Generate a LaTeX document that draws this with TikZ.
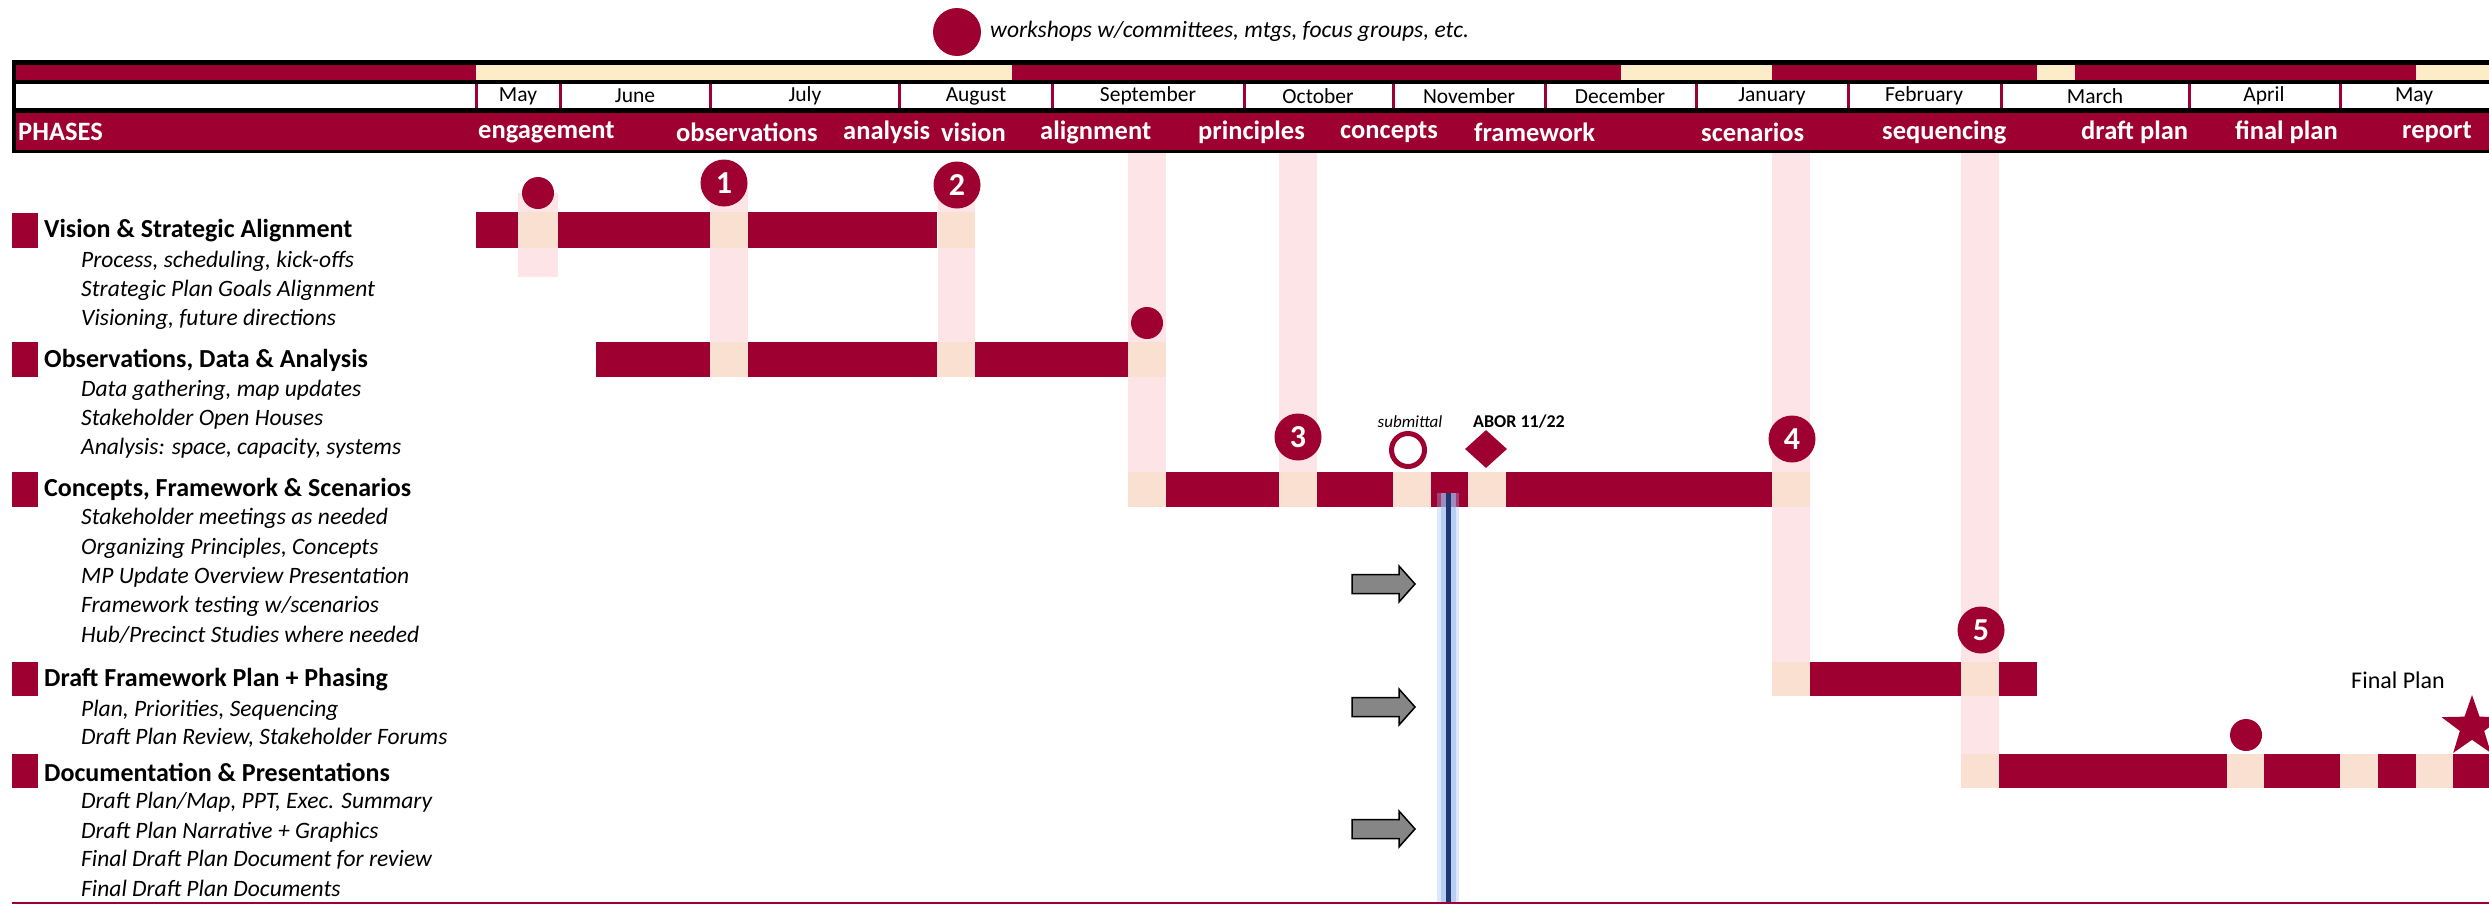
\documentclass[tikz,border=0pt]{standalone}
\usepackage{fontspec}
\setmainfont{Carlito}
\usetikzlibrary{shapes.geometric}
\definecolor{mar}{RGB}{158,0,49}
\definecolor{topc}{RGB}{252,236,200}
\definecolor{gapc}{RGB}{250,224,208}
\definecolor{stripc}{RGB}{253,228,230}
\definecolor{navy}{RGB}{30,55,110}
\definecolor{glow}{RGB}{160,190,240}
\begin{document}
\begin{tikzpicture}[x=1pt,y=-1pt,
  dotm/.style={circle, fill=mar, minimum size=32pt, inner sep=0pt},
  marker/.style={circle, fill=mar, minimum size=47pt, inner sep=0pt, text=white, font=\fontsize{32}{32}\selectfont\bfseries},
  cattitle/.style={anchor=west, inner sep=0pt, font=\fontsize{26}{28}\selectfont\bfseries},
  item/.style={anchor=west, inner sep=0pt, font=\fontsize{23.5}{26}\selectfont\itshape},
  month/.style={inner sep=0pt, font=\fontsize{21.5}{22}\selectfont},
  phase/.style={anchor=west, inner sep=0pt, text=white, font=\fontsize{26.5}{28}\selectfont\bfseries},
  arrowst/.style={fill=gray!95, draw=black, line width=1.5pt},
]
\useasboundingbox (0,0) rectangle (2489,905);
\fill[white] (0,0) rectangle (2489,905);

% legend
\node[dotm, minimum size=48pt] (legdot) at (957,32) {};
\node[item, font=\fontsize{23.5}{25}\selectfont\itshape] (legtxt) at (990,31) {workshops w/committees, mtgs, focus groups, etc.};

% header box
\fill[black] (12,60) rectangle (2495,153);
\fill[mar] (16,65) rectangle (2489,80);
\foreach \a/\b in {476/1012, 1621/1772, 2037/2075, 2416/2489}
  \fill[topc] (\a,65) rectangle (\b,80);
\fill[white] (16,84) rectangle (2489,108);
\foreach \x in {476,560,710,899,1052,1244,1393,1545,1696,1848,2001,2189,2340}
  \draw[mar, line width=3pt] (\x,84) -- (\x,108);
\fill[mar] (16,113) rectangle (2489,150);

% months
\node[month] (mMay) at (518,96) {May};
\node[month] (mJun) at (635,96) {June};
\node[month] (mJul) at (805,96) {July};
\node[month] (mAug) at (976,96) {August};
\node[month] (mSep) at (1148,96) {September};
\node[month] (mOct) at (1318,96) {October};
\node[month] (mNov) at (1469,96) {November};
\node[month] (mDec) at (1620,96) {December};
\node[month] (mJan) at (1772,96) {January};
\node[month] (mFeb) at (1924,96) {February};
\node[month] (mMar) at (2095,96) {March};
\node[month] (mApr) at (2264,96) {April};
\node[month] (mMay2) at (2414,96) {May};

% phases
\node[phase] (pPh) at (18,132) {PHASES};
\node[phase] (p1) at (478,132) {engagement};
\node[phase] (p2) at (676,132) {observations};
\node[phase] (p3) at (843,132) {analysis};
\node[phase] (p4) at (941,132) {vision};
\node[phase] (p5) at (1040,132) {alignment};
\node[phase] (p6) at (1198,132) {principles};
\node[phase] (p7) at (1340,132) {concepts};
\node[phase] (p8) at (1474,132) {framework};
\node[phase] (p9) at (1701,132) {scenarios};
\node[phase] (p10) at (1882,132) {sequencing};
\node[phase] (p11) at (2081,132) {draft plan};
\node[phase] (p12) at (2235,132) {final plan};
\node[phase] (p13) at (2402,132) {report};

% vertical pink strips
\fill[stripc] (518,193) rectangle (558,277);
\fill[stripc] (710,183) rectangle (748,377);
\fill[stripc] (938,185) rectangle (975,377);
\fill[stripc] (1128,153) rectangle (1166,507);
\fill[stripc] (1279,153) rectangle (1317,507);
\fill[stripc] (1772,153) rectangle (1810,696);
\fill[stripc] (1961,153) rectangle (1999,788);

% bars: Vision
\fill[mar] (476,212) rectangle (937,248);
\foreach \a/\b in {518/558, 710/748, 938/975} \fill[gapc] (\a,212) rectangle (\b,248);
% Observations
\fill[mar] (596,342) rectangle (1128,377);
\foreach \a/\b in {710/748, 937/975, 1128/1166} \fill[gapc] (\a,342) rectangle (\b,377);
% Concepts
\fill[mar] (1166,472) rectangle (1772,507);
\foreach \a/\b in {1128/1166, 1279/1317, 1393/1431, 1468/1506, 1772/1810} \fill[gapc] (\a,472) rectangle (\b,507);
% Draft
\fill[mar] (1810,662) rectangle (2037,696);
\foreach \a/\b in {1772/1810, 1961/1999} \fill[gapc] (\a,662) rectangle (\b,696);
% Documentation
\fill[mar] (1999,754) rectangle (2489,788);
\foreach \a/\b in {1961/1999, 2227/2264, 2340/2378, 2416/2453} \fill[gapc] (\a,754) rectangle (\b,788);

% workshop dots
\node[dotm] (d1) at (538,193) {};
\node[dotm] (d2) at (1147,323) {};
\node[dotm] (d3) at (2246,735) {};

% numbered markers
\node[marker] (n1) at (724,183) {1};
\node[marker] (n2) at (957,185) {2};
\node[marker] (n3) at (1298,437) {3};
\node[marker] (n4) at (1792,439) {4};
\node[marker] (n5) at (1981,630) {5};

% submittal / ABOR
\node[circle, draw=mar, line width=5pt, fill=white, minimum size=33pt, inner sep=0pt] (sub) at (1408,450) {};
\node[inner sep=0pt, font=\fontsize{17}{18}\selectfont\itshape] (subl) at (1410,422) {submittal};
\node[diamond, fill=mar, minimum width=42pt, minimum height=38pt, inner sep=0pt] (abor) at (1486,449) {};
\node[anchor=west, inner sep=0pt, font=\fontsize{18}{20}\selectfont\bfseries] (aborl) at (1473,422) {ABOR 11/22};

% blue status line
\coordinate (blTop) at (1448,493);
\coordinate (blBot) at (1448,903);
\draw[glow, line width=22pt, opacity=0.35] (blTop) -- (blBot);
\draw[glow, line width=15pt, opacity=0.6] (blTop) -- (blBot);
\draw[navy, line width=5pt] (blTop) -- (blBot);

% gray arrows
\foreach \yc in {584,707,829}
  \draw[arrowst] (1352,\yc-9.5) -- (1399,\yc-9.5) -- (1399,\yc-18) -- (1415,\yc) -- (1399,\yc+18) -- (1399,\yc+9.5) -- (1352,\yc+9.5) -- cycle;

% final plan
\node[star, star points=5, star point ratio=2.5, fill=mar, minimum size=64pt, inner sep=0pt] (star) at (2472,727) {};
\node[inner sep=0pt, font=\fontsize{24}{26}\selectfont] (fpl) at (2398,680) {Final Plan};

% left categories
\foreach \ya/\yb in {213/248, 342/377, 472/507, 662/696, 754/788}
  \fill[mar] (12,\ya) rectangle (38,\yb);
\node[cattitle] (c1) at (44,231) {Vision \& Strategic Alignment};
\node[item] (c1a) at (81,261) {Process, scheduling, kick-offs};
\node[item] (c1b) at (81,290) {Strategic Plan Goals Alignment};
\node[item] (c1c) at (81,319) {Visioning, future directions};
\node[cattitle] (c2) at (44,360) {Observations, Data \& Analysis};
\node[item] (c2a) at (81,390) {Data gathering, map updates};
\node[item] (c2b) at (81,419) {Stakeholder Open Houses};
\node[item] (c2c) at (81,448) {Analysis: space, capacity, systems};
\node[cattitle] (c3) at (44,489) {Concepts, Framework \& Scenarios};
\node[item] (c3a) at (81,518) {Stakeholder meetings as needed};
\node[item] (c3b) at (81,548) {Organizing Principles, Concepts};
\node[item] (c3c) at (81,577) {MP Update Overview Presentation};
\node[item] (c3d) at (81,606) {Framework testing w/scenarios};
\node[item] (c3e) at (81,635) {Hub/Precinct Studies where needed};
\node[cattitle] (c4) at (44,680) {Draft Framework Plan + Phasing};
\node[item] (c4a) at (81,710) {Plan, Priorities, Sequencing};
\node[item] (c4b) at (81,738) {Draft Plan Review, Stakeholder Forums};
\node[cattitle] (c5) at (44,772) {Documentation \& Presentations};
\node[item] (c5a) at (81,802) {Draft Plan/Map, PPT, Exec. Summary};
\node[item] (c5b) at (81,832) {Draft Plan Narrative + Graphics};
\node[item] (c5c) at (81,860) {Final Draft Plan Document for review};
\node[item] (c5d) at (81,888) {Final Draft Plan Documents};

% bottom rule
\draw[mar, line width=2pt] (12,903) -- (2489,903);
\end{tikzpicture}
\end{document}
